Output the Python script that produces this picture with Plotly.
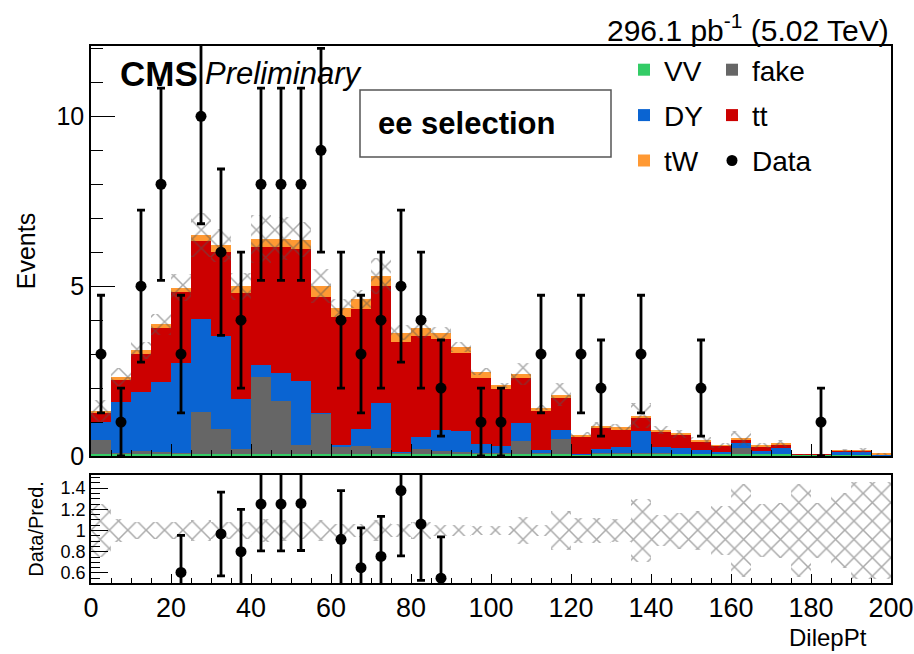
import numpy as np
import plotly.graph_objects as go

# ---------------- data ----------------
bin_edges = list(range(0, 205, 5))          # DilepPt bins, 5 GeV wide
vv   = [0.07,0.07,0.07,0.07,0.07,0.07,0.07,0.07,0.07,0.07,0.07,0.07,0.07,0.07,0.07,0.07,0.07,0.07,0.07,0.07,
        0.07,0.07,0.07,0.07,0.04,0.06,0.06,0.06,0.06,0.06,0.06,0.06,0.06,0.06,0.06,0.04,0.04,0.03,0.03,0.02]
fake = [0.40,0.03,0.09,0.05,0.03,1.23,0.73,0.15,2.26,1.55,0.25,1.17,0.22,0.22,0.16,0.03,0.13,0.08,0.05,0.03,
        0.02,0.38,0.02,0.42,0.01,0.02,0.02,0.02,0.02,0.01,0.01,0.01,0.19,0.01,0.01,0.00,0.00,0.00,0.00,0.00]
dy   = [0.54,1.48,1.71,2.07,2.65,2.72,2.73,1.46,0.35,0.83,1.88,0.04,0.02,0.51,1.34,0.02,0.37,0.61,0.62,0.26,
        0.20,0.51,0.09,0.29,0.02,0.12,0.19,0.66,0.19,0.18,0.11,0.06,0.12,0.09,0.18,0.00,0.00,0.10,0.10,0.01]
tt   = [0.25,0.66,1.13,1.59,2.08,2.31,2.47,3.12,3.46,3.71,3.88,3.39,3.77,3.53,3.43,3.24,2.96,2.67,2.28,1.93,
        1.67,1.35,1.15,0.94,0.48,0.61,0.51,0.40,0.46,0.37,0.26,0.17,0.12,0.13,0.10,0.01,0.01,0.02,0.02,0.02]
tw   = [0.07,0.09,0.12,0.10,0.13,0.17,0.20,0.20,0.26,0.24,0.29,0.33,0.28,0.29,0.29,0.27,0.24,0.20,0.19,0.19,
        0.12,0.10,0.09,0.09,0.07,0.08,0.08,0.05,0.03,0.03,0.03,0.02,0.03,0.02,0.02,0.00,0.00,0.01,0.01,0.01]
data = [3,1,5,8,3,10,6,4,8,8,8,9,4,3,4,5,4,2,0,1,
        1,0,3,0,3,2,0,3,0,0,2,0,0,0,0,0,1,0,0,0]
mc_rel_unc = [0.25,0.11,0.08,0.08,0.08,0.10,0.08,0.08,0.11,0.10,0.08,0.10,0.06,0.06,0.10,0.06,0.08,0.05,0.05,0.04,
              0.04,0.13,0.05,0.18,0.12,0.12,0.11,0.30,0.15,0.17,0.18,0.23,0.44,0.25,0.26,0.44,0.26,0.35,0.46,0.46]

x_tickvals = [0, 20, 40, 60, 80, 100, 120, 140, 160, 180, 200]
x_ticktext = ["0", "20", "40", "60", "80", "100", "120", "140", "160", "180", "200"]
y_tickvals = [0, 5, 10]
y_ticktext = ["0", "5", "10"]
r_tickvals = [0.6, 0.8, 1.0, 1.2, 1.4]
r_ticktext = ["0.6", "0.8", "1", "1.2", "1.4"]

main_range = [0, 12.07]
ratio_range = [0.505, 1.524]

FONT = "Liberation Sans, Arial, Helvetica, sans-serif"

# ---------------- derived ----------------
edges = np.array(bin_edges, dtype=float)
centers = 0.5 * (edges[:-1] + edges[1:])
widths = np.diff(edges)

components = [
    ("VV", vv, "#33cc66", "legend"),
    ("fake", fake, "#666666", "legend2"),
    ("DY", dy, "#0a64d2", "legend"),
    ("tt", tt, "#cc0000", "legend2"),
    ("tW", tw, "#ff9933", "legend"),
]

fig = go.Figure()

base = np.zeros(len(centers))
for name, vals, col, leg in components:
    v = np.array(vals, dtype=float)
    fig.add_trace(go.Bar(
        x=centers, y=v, base=base.copy(), width=widths,
        marker=dict(color=col, line=dict(width=0)),
        name=name, legend=leg, legendgroup=name,
        xaxis="x", yaxis="y", hoverinfo="skip",
    ))
    base = base + v
total = base

rel = np.array(mc_rel_unc, dtype=float)
unc = total * rel
hatch = dict(shape="x", fgcolor="#555555", bgcolor="rgba(0,0,0,0)", size=13, solidity=0.22)
fig.add_trace(go.Bar(
    x=centers, y=2 * unc, base=total - unc, width=widths,
    marker=dict(color="rgba(0,0,0,0)", line=dict(width=0), pattern=hatch),
    showlegend=False, xaxis="x", yaxis="y", hoverinfo="skip",
))

d = np.array(data, dtype=float)
has = d > 0
fig.add_trace(go.Scatter(
    x=centers[has], y=d[has], mode="markers",
    marker=dict(symbol="circle", size=11, color="black"),
    error_y=dict(type="data", array=np.sqrt(d[has]), symmetric=True,
                 color="black", thickness=2.8, width=4),
    name="Data", legend="legend2", legendgroup="Data",
    xaxis="x", yaxis="y", hoverinfo="skip",
))

# ratio panel
fig.add_trace(go.Bar(
    x=centers, y=2 * rel, base=1 - rel, width=widths,
    marker=dict(color="rgba(0,0,0,0)", line=dict(width=0), pattern=hatch),
    showlegend=False, xaxis="x2", yaxis="y2", hoverinfo="skip",
))
ratio = np.where(has, d / total, np.nan)
rerr = np.where(has, np.sqrt(d) / total, np.nan)
show = has & (ratio > ratio_range[0]) & (ratio < ratio_range[1])
fig.add_trace(go.Scatter(
    x=centers[show], y=ratio[show], mode="markers",
    marker=dict(symbol="circle", size=11, color="black"),
    error_y=dict(type="data", array=rerr[show], symmetric=True,
                 color="black", thickness=2.8, width=4),
    showlegend=False, xaxis="x2", yaxis="y2", hoverinfo="skip",
))

# ---------------- layout ----------------
W, H = 914, 654
ml, mr, mt, mb = 91, 23, 46, 71
ph = H - mt - mb
pw = W - ml - mr

def px_x(x):
    return (x - ml) / pw

def px_y(y):
    return (H - mb - y) / ph

axis_common = dict(showline=True, linecolor="black", linewidth=1.5, mirror=True,
                   showgrid=False, zeroline=False, ticks="inside", tickcolor="black",
                   tickwidth=1.2, automargin=False)

fig.update_layout(
    width=W, height=H,
    margin=dict(l=ml, r=mr, t=mt, b=mb, autoexpand=False),
    paper_bgcolor="white", plot_bgcolor="white",
    barmode="overlay", bargap=0,
    font=dict(family=FONT, color="black"),
    showlegend=True,
    xaxis=dict(**axis_common, domain=[0, 1], range=[0, 200], anchor="y",
               tickmode="array", tickvals=x_tickvals, showticklabels=False, ticklen=12,
               minor=dict(tickmode="linear", tick0=0, dtick=5, ticks="inside", ticklen=6,
                          tickcolor="black", tickwidth=1.2)),
    yaxis=dict(**axis_common, domain=[px_y(456), 1], range=main_range, anchor="x",
               tickmode="array", tickvals=y_tickvals, ticktext=y_ticktext, ticklen=24,
               tickfont=dict(size=25),
               minor=dict(tickmode="linear", tick0=0, dtick=1, ticks="inside", ticklen=12,
                          tickcolor="black", tickwidth=1.2),
               title=dict(text="Events", font=dict(size=25), standoff=14)),
    xaxis2=dict(**axis_common, domain=[0, 1], range=[0, 200], anchor="y2",
                tickmode="array", tickvals=x_tickvals, ticktext=x_ticktext, ticklen=9,
                tickfont=dict(size=27),
                minor=dict(tickmode="linear", tick0=0, dtick=5, ticks="inside", ticklen=5,
                           tickcolor="black", tickwidth=1.2)),
    yaxis2=dict(**axis_common, domain=[0, px_y(475)], range=ratio_range, anchor="x2",
                tickmode="array", tickvals=r_tickvals, ticktext=r_ticktext, ticklen=17,
                tickfont=dict(size=18),
                minor=dict(tickmode="linear", tick0=0.5, dtick=0.05, ticks="inside", ticklen=9,
                           tickcolor="black", tickwidth=1.2),
                title=dict(text="Data/Pred.", font=dict(size=20), standoff=12)),
    legend=dict(x=px_x(624), y=px_y(45), xanchor="left", yanchor="top",
                bgcolor="rgba(0,0,0,0)", borderwidth=0, font=dict(size=28),
                tracegroupgap=6, traceorder="grouped"),
    legend2=dict(x=px_x(712), y=px_y(45), xanchor="left", yanchor="top",
                 bgcolor="rgba(0,0,0,0)", borderwidth=0, font=dict(size=28),
                 tracegroupgap=6, traceorder="grouped"),
)

annotations = [
    dict(text="296.1 pb<sup>-1</sup> (5.02 TeV)", x=px_x(891), y=px_y(28), xref="paper", yref="paper",
         xanchor="right", yanchor="middle", showarrow=False, font=dict(size=30)),
    dict(text="<b>CMS</b>", x=px_x(118), y=px_y(73), xref="paper", yref="paper",
         xanchor="left", yanchor="middle", showarrow=False, font=dict(size=35)),
    dict(text="<i>Preliminary</i>", x=px_x(203), y=px_y(73), xref="paper", yref="paper",
         xanchor="left", yanchor="middle", showarrow=False, font=dict(size=31)),
    dict(text="<b>ee selection</b>", x=px_x(376), y=px_y(124), xref="paper", yref="paper",
         xanchor="left", yanchor="middle", showarrow=False, font=dict(size=31)),
    dict(text="DilepPt", x=px_x(869), y=px_y(637), xref="paper", yref="paper",
         xanchor="right", yanchor="middle", showarrow=False, font=dict(size=24)),
]
fig.update_layout(annotations=annotations)

fig.add_shape(type="rect", xref="paper", yref="paper",
              x0=px_x(360), x1=px_x(611), y0=px_y(157), y1=px_y(90),
              line=dict(color="#555555", width=1.5), fillcolor="white", layer="above")

fig.write_html("out.html")
